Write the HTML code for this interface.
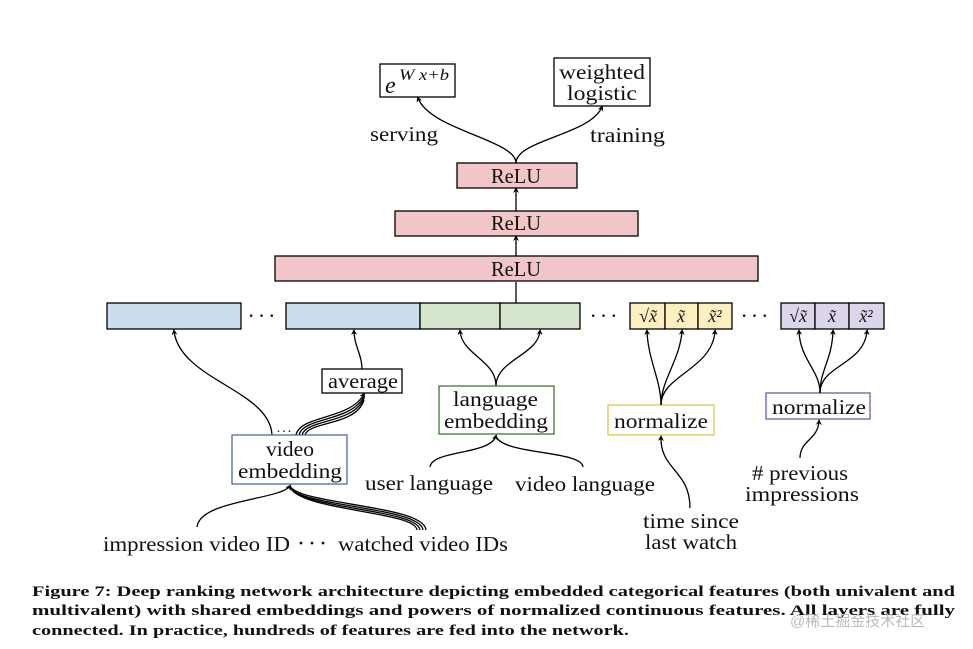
<!DOCTYPE html>
<html><head><meta charset="utf-8"><style>
html,body{margin:0;padding:0;background:#fff;}
svg{display:block;}
text{font-family:"Liberation Serif","DejaVu Serif",serif;fill:#111;}
</style></head><body>
<svg width="973" height="649" viewBox="0 0 973 649" xmlns="http://www.w3.org/2000/svg">
<defs>
<marker id="a" markerWidth="8" markerHeight="8" refX="4" refY="4" orient="auto" markerUnits="userSpaceOnUse">
<path d="M0,1 L6,4 L0,7 L2,4 Z" fill="#000"/>
</marker>
</defs>
<g fill="none" stroke="#000" stroke-width="1.3">
<rect x="380" y="64" width="75" height="33" fill="#fff"/>
<rect x="554" y="58" width="96" height="48" fill="#fff"/>
<path d="M516,163 C516,140 430,130 418,98" marker-end="url(#a)"/>
<path d="M516,163 C516,140 590,135 602,107" marker-end="url(#a)"/>
<rect x="457" y="163" width="120" height="25" fill="#f2c5c9"/>
<rect x="395" y="211" width="243" height="25" fill="#f2c5c9"/>
<rect x="275" y="256" width="483" height="25" fill="#f2c5c9"/>
<line x1="516" y1="211" x2="516" y2="189" marker-end="url(#a)"/>
<line x1="516" y1="256" x2="516" y2="237" marker-end="url(#a)"/>
<line x1="516" y1="303" x2="516" y2="282"/>
<rect x="107" y="303" width="134" height="26" fill="#c9ddef"/>
<rect x="286" y="303" width="134" height="26" fill="#c9ddef"/>
<rect x="420" y="303" width="80" height="26" fill="#d5e6cc"/>
<rect x="500" y="303" width="80" height="26" fill="#d5e6cc"/>
<rect x="630" y="303" width="35" height="26" fill="#fcefc0"/>
<rect x="665" y="303" width="33" height="26" fill="#fcefc0"/>
<rect x="698" y="303" width="34" height="26" fill="#fcefc0"/>
<rect x="781" y="303" width="34" height="26" fill="#ddd5ea"/>
<rect x="815" y="303" width="34" height="26" fill="#ddd5ea"/>
<rect x="849" y="303" width="35" height="26" fill="#ddd5ea"/>
<path d="M272,435 C270,390 180,380 174,331" marker-end="url(#a)"/>
<path d="M362,369 C362,355 354,345 354,331" marker-end="url(#a)"/>
<path d="M296,435 C300,415 350,420 364,394" marker-end="url(#a)"/>
<path d="M299,435 C303,417 352,422 364,396"/>
<path d="M302,435 C306,419 354,424 364,398"/>
<path d="M305,435 C309,421 356,426 364,400"/>
<path d="M496,386 C496,360 462,355 460,331" marker-end="url(#a)"/>
<path d="M496,386 C496,360 538,355 540,331" marker-end="url(#a)"/>
<path d="M430,467 C432,450 490,455 496,436" marker-end="url(#a)"/>
<path d="M583,467 C581,450 502,455 496,436"/>
<rect x="608" y="405" width="106" height="30" stroke="#e6c24a"/>
<path d="M661,405 C661,380 648,360 647,331" marker-end="url(#a)"/>
<path d="M661,405 C661,380 680,360 682,331" marker-end="url(#a)"/>
<path d="M661,405 C661,375 712,370 715,331" marker-end="url(#a)"/>
<path d="M690,508 C690,470 660,470 661,437" marker-end="url(#a)"/>
<rect x="766" y="393" width="104" height="26" stroke="#6a5fae"/>
<path d="M820,393 C820,370 800,360 799,331" marker-end="url(#a)"/>
<path d="M820,393 C820,370 832,360 833,331" marker-end="url(#a)"/>
<path d="M820,393 C820,365 864,365 867,331" marker-end="url(#a)"/>
<path d="M800,458 C800,440 818,440 819,421" marker-end="url(#a)"/>
<path d="M197,527 C200,500 280,500 290,486" marker-end="url(#a)"/>
<path d="M426,530 C424,505 300,505 290,486" />
<path d="M423,530 C421,507 300,507 290,487" />
<path d="M420,530 C418,509 300,509 290,487" />
<path d="M417,530 C415,511 300,511 290,487" />
<rect x="322" y="369" width="80" height="24" fill="#fff"/>
<rect x="439" y="386" width="115" height="48" stroke="#3e7a2e" fill="#fff"/>
<rect x="232" y="435" width="115" height="49" stroke="#4a6aa8" fill="#fff"/>
</g>
<g font-size="21">
<text x="385" y="93" font-style="italic" font-size="24">e</text>
<text x="399" y="80" font-style="italic" font-size="16" textLength="50" lengthAdjust="spacingAndGlyphs">W x+b</text>
<text x="559" y="79" textLength="86" lengthAdjust="spacingAndGlyphs">weighted</text>
<text x="567" y="100" textLength="70" lengthAdjust="spacingAndGlyphs">logistic</text>
<text x="370" y="141" textLength="68" lengthAdjust="spacingAndGlyphs">serving</text>
<text x="590" y="142" textLength="75" lengthAdjust="spacingAndGlyphs">training</text>
<text x="491" y="183" textLength="50" lengthAdjust="spacingAndGlyphs">ReLU</text>
<text x="491" y="230" textLength="50" lengthAdjust="spacingAndGlyphs">ReLU</text>
<text x="491" y="276" textLength="50" lengthAdjust="spacingAndGlyphs">ReLU</text>
<text x="263" y="323" text-anchor="middle" font-size="22" letter-spacing="3">···</text>
<text x="605" y="323" text-anchor="middle" font-size="22" letter-spacing="3">···</text>
<text x="756" y="323" text-anchor="middle" font-size="22" letter-spacing="3">···</text>
<g font-style="italic" font-size="18" text-anchor="middle">
<text x="648" y="322">√x̃</text><text x="681" y="322">x̃</text><text x="715" y="322">x̃²</text>
<text x="798" y="322">√x̃</text><text x="832" y="322">x̃</text><text x="866" y="322">x̃²</text>
</g>
<text x="328" y="388" textLength="70" lengthAdjust="spacingAndGlyphs">average</text>
<text x="453" y="406" textLength="85" lengthAdjust="spacingAndGlyphs">language</text>
<text x="444" y="428" textLength="104" lengthAdjust="spacingAndGlyphs">embedding</text>
<text x="614" y="428" textLength="94" lengthAdjust="spacingAndGlyphs">normalize</text>
<text x="772" y="414" textLength="94" lengthAdjust="spacingAndGlyphs">normalize</text>
<text x="266" y="456" textLength="48" lengthAdjust="spacingAndGlyphs">video</text>
<text x="238" y="478" textLength="104" lengthAdjust="spacingAndGlyphs">embedding</text>
<text x="285" y="432" text-anchor="middle" font-size="14" letter-spacing="2">...</text>
<text x="365" y="490" textLength="128" lengthAdjust="spacingAndGlyphs">user language</text>
<text x="515" y="491" textLength="140" lengthAdjust="spacingAndGlyphs">video language</text>
<text x="752" y="480" textLength="96" lengthAdjust="spacingAndGlyphs"># previous</text>
<text x="745" y="501" textLength="114" lengthAdjust="spacingAndGlyphs">impressions</text>
<text x="643" y="528" textLength="96" lengthAdjust="spacingAndGlyphs">time since</text>
<text x="645" y="549" textLength="92" lengthAdjust="spacingAndGlyphs">last watch</text>
<text x="103" y="551" textLength="187" lengthAdjust="spacingAndGlyphs">impression video ID</text>
<text x="297" y="551" font-size="24" letter-spacing="3">···</text>
<text x="338" y="551" textLength="170" lengthAdjust="spacingAndGlyphs">watched video IDs</text>
</g>
<g font-size="14.5" font-weight="bold">
<text x="32" y="596" textLength="923" lengthAdjust="spacingAndGlyphs">Figure 7: Deep ranking network architecture depicting embedded categorical features (both univalent and</text>
<text x="32" y="615" textLength="923" lengthAdjust="spacingAndGlyphs">multivalent) with shared embeddings and powers of normalized continuous features.  All layers are fully</text>
<text x="32" y="635" textLength="597" lengthAdjust="spacingAndGlyphs">connected. In practice, hundreds of features are fed into the network.</text>
</g>
<text x="790" y="626" font-size="15" style="fill:#bbb;font-family:'Liberation Sans','Noto Sans CJK SC',sans-serif">@稀土掘金技术社区</text>
</svg>
</body></html>
